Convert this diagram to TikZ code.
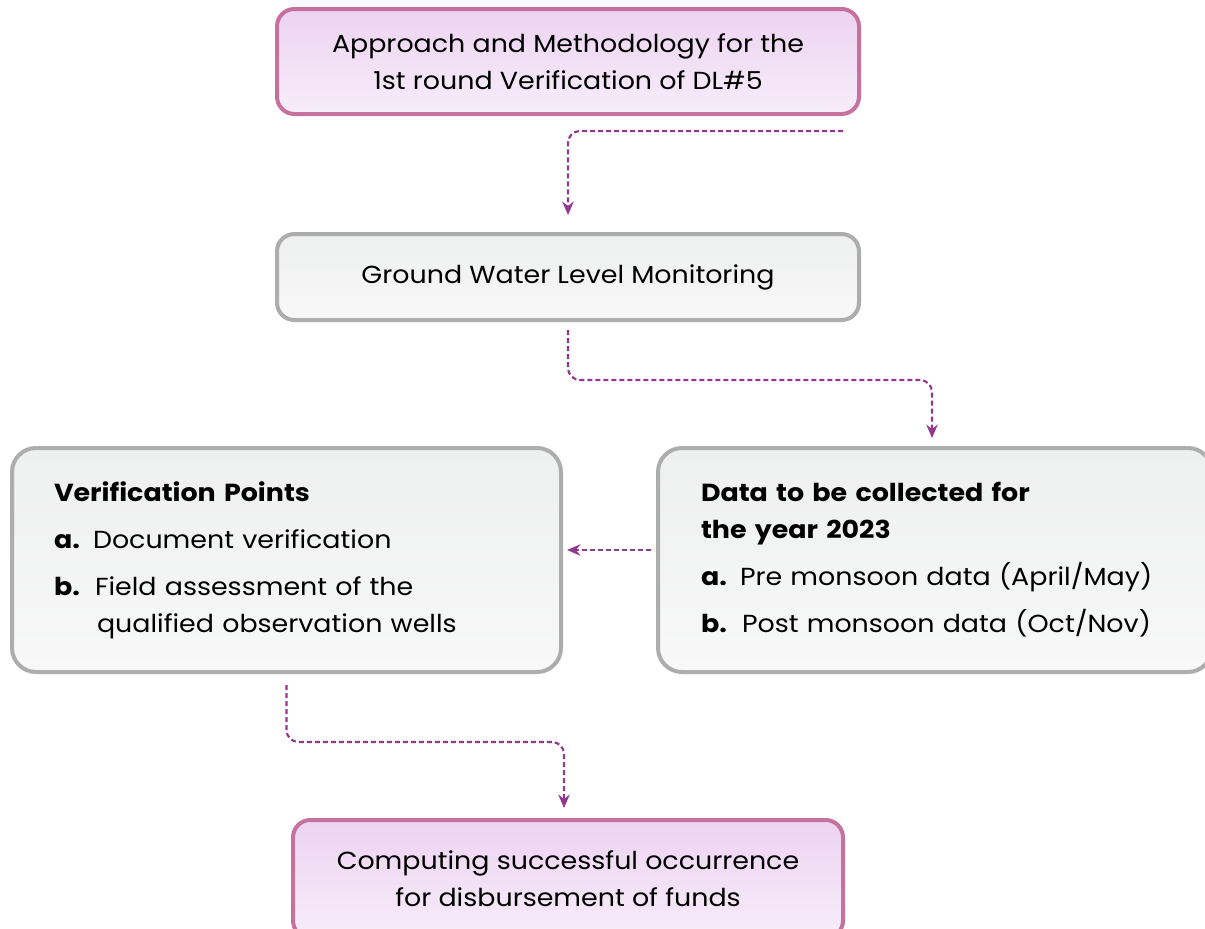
\documentclass[tikz,border=0pt]{standalone}
\usepackage{fontspec}
\setmainfont{Poppins}[FakeStretch=1.09]
\usetikzlibrary{arrows.meta}
\definecolor{pinkb}{HTML}{C6729F}
\definecolor{pinktop}{HTML}{EDD3F1}
\definecolor{pinkbot}{HTML}{F7EDFA}
\definecolor{grayb}{HTML}{ADADAD}
\definecolor{graytop}{HTML}{EEEFEF}
\definecolor{graybot}{HTML}{F8F8F8}
\definecolor{arrowc}{HTML}{92398F}
\tikzset{
  txt/.style={font=\fontsize{18.5pt}{27.75pt}\selectfont},
  pinkbox/.style={txt, draw=pinkb, line width=3pt, rounded corners=13pt, top color=pinktop, bottom color=pinkbot, align=center, inner sep=0pt},
  graybox/.style={txt, draw=grayb, line width=3pt, rounded corners=13pt, top color=graytop, bottom color=graybot, align=center, inner sep=0pt},
  bigbox/.style={txt, draw=grayb, line width=3pt, rounded corners=18pt, top color=graytop, bottom color=graybot, align=left, inner ysep=0pt, minimum height=168pt},
  conn/.style={draw=arrowc, line width=1.6pt, dash pattern=on 3.75pt off 2.25pt, rounded corners=9pt, -{Stealth[length=10pt,width=8.5pt]}}
}
\begin{document}
\begin{tikzpicture}[x=0.75pt,y=-0.75pt]
\useasboundingbox (0,0) rectangle (1205,928);
\fill[white] (0,0) rectangle (1205,928);
\node[pinkbox, minimum width=436.5pt, minimum height=78.75pt] (top) at (568,61.5)
  {Approach and Methodology for the\\1st round Verification of DL\#5};
\node[graybox, minimum width=436.5pt, minimum height=64.5pt] (gwl) at (568,277)
  {Ground Water Level Monitoring};
\node[bigbox, text width=348.75pt, inner xsep=31.5pt] (left) at (286.5,560)
  {\textbf{Verification Points}\\[7.5pt]
   \makebox[29.25pt][l]{\textbf{a.}}Document verification\\[7.5pt]
   \makebox[30.75pt][l]{\textbf{b.}}Field assessment of the\\
   \hspace*{32.25pt}qualified observation wells};
\node[bigbox, text width=351pt, inner xsep=32.25pt] (right) at (935,560)
  {\textbf{Data to be collected for}\\
   \textbf{the year 2023}\\[7.5pt]
   \makebox[29.25pt][l]{\textbf{a.}}Pre monsoon data (April/May)\\[7.5pt]
   \makebox[30.75pt][l]{\textbf{b.}}Post monsoon data (Oct/Nov)};
\node[pinkbox, minimum width=412.5pt, minimum height=88.5pt] (bot) at (568,879)
  {Computing successful occurrence\\for disbursement of funds};
\coordinate (astart) at (843,131);
\draw[conn, shorten >=12.75pt] (astart) -| (gwl.north);
\coordinate (bmid) at (750,380);
\draw[conn] ([yshift=-6pt]gwl.south) |- (bmid) -| ([xshift=-2.25pt,yshift=6pt]right.north);
\draw[conn] ([xshift=-3.75pt,yshift=7.5pt]right.west) -- ([xshift=3pt,yshift=7.5pt]left.east);
\coordinate (dmid) at (420,742);
\draw[conn] ([yshift=-8.25pt]left.south) |- (dmid) -| ([xshift=-3pt,yshift=7.5pt]bot.north);
\end{tikzpicture}
\end{document}
